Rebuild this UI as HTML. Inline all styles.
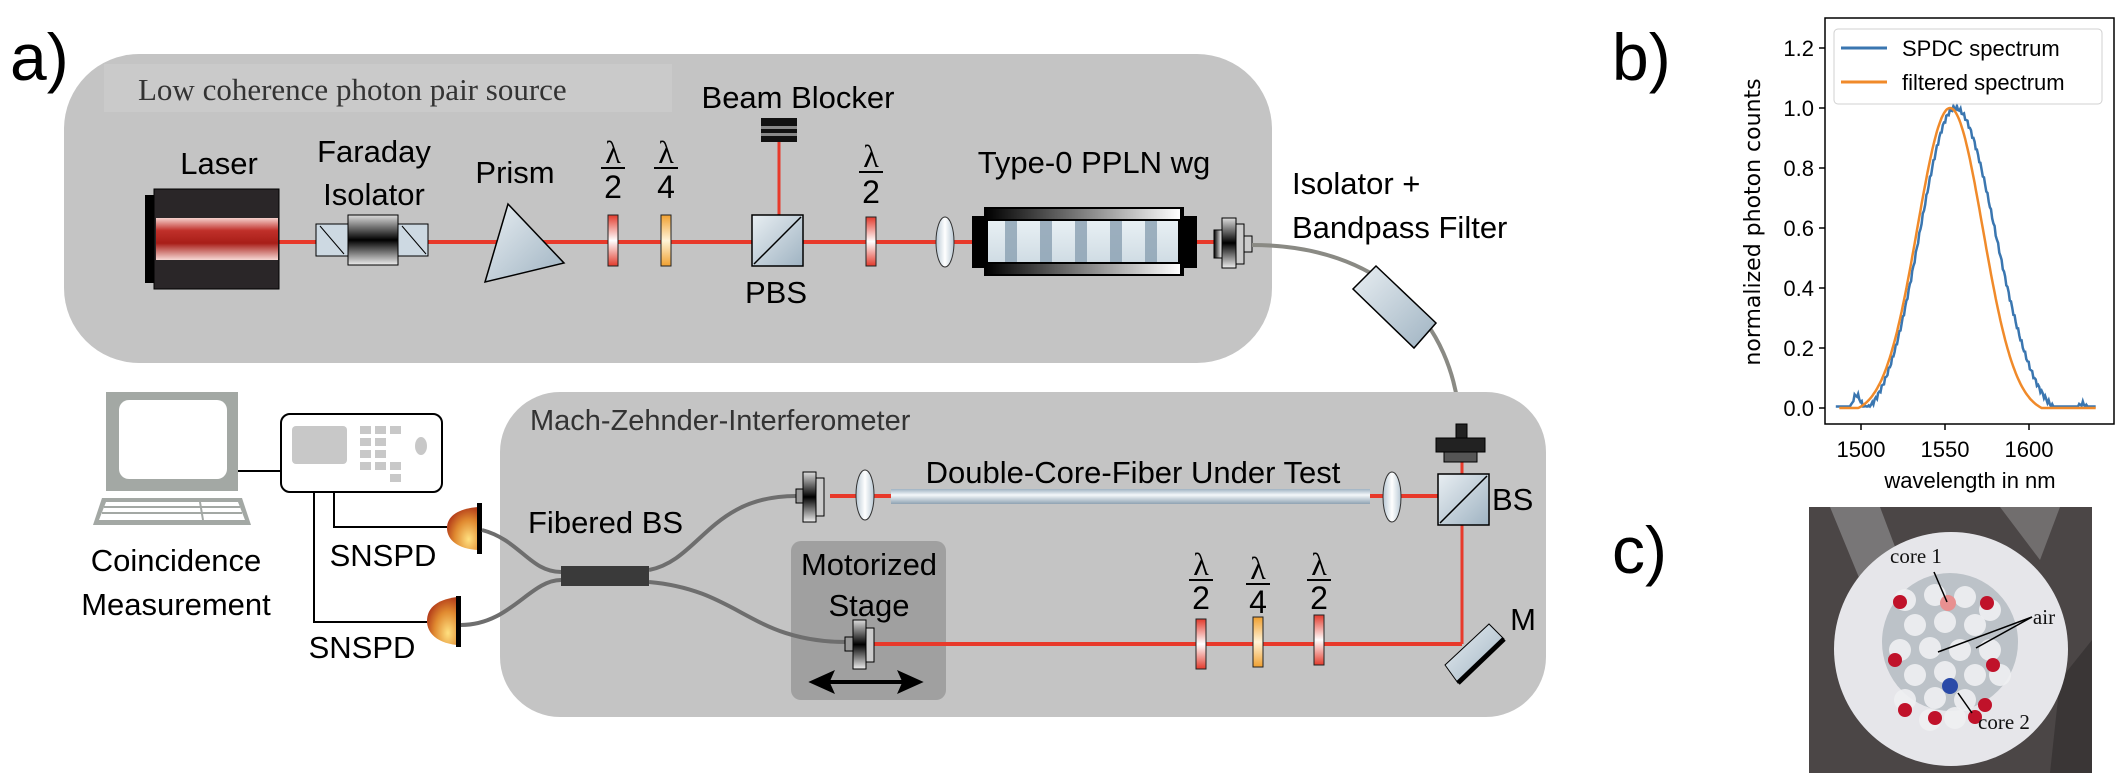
<!DOCTYPE html>
<html><head><meta charset="utf-8"><style>
html,body{margin:0;padding:0;background:#fff;}
svg{display:block;font-family:"Liberation Sans",Arial,sans-serif;}
</style></head><body>
<svg id="s" width="2124" height="784" viewBox="0 0 2124 784" xmlns="http://www.w3.org/2000/svg">
<defs>
<linearGradient id="lred" x1="0" y1="0" x2="0" y2="1"><stop offset="0" stop-color="#f5d0cc"/><stop offset="0.3" stop-color="#c0302a"/><stop offset="0.6" stop-color="#a81e18"/><stop offset="1" stop-color="#f6d8d4"/></linearGradient>
<linearGradient id="metal" x1="0" y1="0" x2="1" y2="1"><stop offset="0" stop-color="#e8eef2"/><stop offset="1" stop-color="#9fb3c2"/></linearGradient>
<linearGradient id="blk" x1="0" y1="0" x2="0" y2="1"><stop offset="0" stop-color="#ddd"/><stop offset="0.5" stop-color="#000"/><stop offset="1" stop-color="#eee"/></linearGradient>
<linearGradient id="blkh" x1="0" y1="0" x2="1" y2="0"><stop offset="0" stop-color="#000"/><stop offset="1" stop-color="#fff"/></linearGradient>
<linearGradient id="wpr" x1="0" y1="0" x2="0" y2="1"><stop offset="0" stop-color="#e23a2c"/><stop offset="0.5" stop-color="#fff"/><stop offset="1" stop-color="#e23a2c"/></linearGradient>
<linearGradient id="wpo" x1="0" y1="0" x2="0" y2="1"><stop offset="0" stop-color="#f0a030"/><stop offset="0.5" stop-color="#fff4d8"/><stop offset="1" stop-color="#f0a030"/></linearGradient>
<linearGradient id="ppln" x1="0" y1="0" x2="0" y2="1"><stop offset="0" stop-color="#e8f0f4"/><stop offset="1" stop-color="#d0dce4"/></linearGradient>
<linearGradient id="fib" x1="0" y1="0" x2="0" y2="1"><stop offset="0" stop-color="#9fb2c2"/><stop offset="0.4" stop-color="#f4f8fa"/><stop offset="1" stop-color="#8ea2b2"/></linearGradient>
<radialGradient id="det" cx="0.7" cy="0.75" r="0.9"><stop offset="0" stop-color="#ffe080"/><stop offset="0.5" stop-color="#e08a30"/><stop offset="1" stop-color="#a01a10"/></radialGradient>
<linearGradient id="lens" x1="0" y1="0" x2="1" y2="0"><stop offset="0" stop-color="#b8c8d4"/><stop offset="0.5" stop-color="#fff"/><stop offset="1" stop-color="#b8c8d4"/></linearGradient>
</defs>

<text x="10" y="80" font-size="66">a)</text>
<rect x="64" y="54" width="1208" height="309" rx="75" fill="#c4c4c4"/>
<rect x="104" y="64" width="568" height="48" fill="#cacaca"/>
<text x="138" y="100" font-family="Liberation Serif,serif" font-size="31" fill="#333">Low coherence photon pair source</text>

<line x1="279" y1="242" x2="1215" y2="242" stroke="#e8392a" stroke-width="4"/>
<line x1="779" y1="142" x2="779" y2="215" stroke="#e8392a" stroke-width="3"/>

<rect x="145" y="195" width="10" height="88" fill="#000"/>
<rect x="154" y="189" width="125" height="100" fill="#2a2628" stroke="#000"/>
<rect x="156" y="218" width="122" height="42" fill="url(#lred)"/>
<text x="219" y="174" font-size="31" text-anchor="middle">Laser</text>

<rect x="316" y="224" width="32" height="32" fill="#cdd9e2" stroke="#000"/>
<line x1="320" y1="226" x2="344" y2="254" stroke="#000"/>
<rect x="398" y="224" width="30" height="32" fill="#cdd9e2" stroke="#000"/>
<line x1="402" y1="226" x2="426" y2="254" stroke="#000"/>
<rect x="348" y="215" width="50" height="50" fill="url(#blk)" stroke="#000"/>
<text x="374" y="162" font-size="31" text-anchor="middle">Faraday</text>
<text x="374" y="205" font-size="31" text-anchor="middle">Isolator</text>

<polygon points="508,204 564,263 485,282" fill="url(#metal)" stroke="#000" stroke-width="1.5"/>
<text x="515" y="183" font-size="31" text-anchor="middle">Prism</text>

<rect x="608" y="215" width="10" height="51" fill="url(#wpr)" stroke="#222"/>
<rect x="661" y="215" width="10" height="51" fill="url(#wpo)" stroke="#222"/>
<rect x="866" y="217" width="10" height="49" fill="url(#wpr)" stroke="#222"/>
<g font-family="Liberation Serif,serif" font-size="32" text-anchor="middle">
<text x="613" y="163">λ</text><line x1="601" y1="168" x2="625" y2="168" stroke="#000" stroke-width="2"/><text x="613" y="198" font-family="Liberation Sans,sans-serif">2</text>
<text x="666" y="163">λ</text><line x1="654" y1="168" x2="678" y2="168" stroke="#000" stroke-width="2"/><text x="666" y="198" font-family="Liberation Sans,sans-serif">4</text>
<text x="871" y="167">λ</text><line x1="859" y1="172" x2="883" y2="172" stroke="#000" stroke-width="2"/><text x="871" y="203" font-family="Liberation Sans,sans-serif">2</text>
</g>

<rect x="752" y="215" width="51" height="51" fill="url(#metal)" stroke="#000" stroke-width="1.5"/>
<line x1="754" y1="264" x2="801" y2="217" stroke="#000" stroke-width="1.5"/>
<text x="776" y="303" font-size="31" text-anchor="middle">PBS</text>
<rect x="761" y="118" width="36" height="24" fill="#111"/>
<rect x="761" y="126" width="36" height="3" fill="#888"/><rect x="761" y="133" width="36" height="3" fill="#888"/>
<text x="798" y="108" font-size="31" text-anchor="middle">Beam Blocker</text>

<ellipse cx="945" cy="242" rx="9" ry="25" fill="url(#lens)" stroke="#333"/>
<rect x="972" y="216" width="12" height="52" fill="#000"/>
<rect x="984" y="207" width="200" height="69" fill="#000"/>
<rect x="986" y="209" width="194" height="10" fill="url(#blkh)"/>
<rect x="986" y="264" width="194" height="10" fill="url(#blkh)"/>
<rect x="988" y="221" width="190" height="41" fill="url(#ppln)"/>
<g fill="#8aa0b2" opacity="0.8">
<rect x="1005" y="221" width="12" height="41"/><rect x="1040" y="221" width="12" height="41"/><rect x="1075" y="221" width="12" height="41"/><rect x="1110" y="221" width="12" height="41"/><rect x="1145" y="221" width="12" height="41"/>
</g>
<rect x="1184" y="216" width="13" height="52" fill="#000"/>
<text x="1094" y="173" font-size="31" text-anchor="middle">Type-0 PPLN wg</text>
<rect x="1214" y="230" width="8" height="28" fill="url(#blkh)" stroke="#000"/>
<rect x="1222" y="218" width="14" height="50" fill="url(#blk)" stroke="#000"/>
<rect x="1236" y="224" width="8" height="40" fill="#ccc" stroke="#000"/>
<rect x="1244" y="236" width="8" height="16" fill="#ccc" stroke="#000"/>
<text x="1292" y="194" font-size="31">Isolator +</text>
<text x="1292" y="238" font-size="31">Bandpass Filter</text>
<path d="M1252,245 C1380,245 1455,320 1460,426" fill="none" stroke="#8a8a84" stroke-width="4"/>
<polygon points="1376,266 1436,323 1414,348 1353,289" fill="url(#metal)" stroke="#000" stroke-width="1.5"/>

<rect x="500" y="392" width="1046" height="325" rx="60" fill="#c4c4c4"/>
<text x="530" y="430" font-size="29" fill="#333">Mach-Zehnder-Interferometer</text>

<rect x="106" y="392" width="132" height="99" fill="#a3a8a4"/>
<rect x="119" y="400" width="108" height="79" rx="10" fill="#fff"/>
<polygon points="102,498 242,498 251,525 93,525" fill="#a3a8a4"/>
<polygon points="106,502 238,502 245,520 99,520" fill="#fff"/>
<g stroke="#a3a8a4" stroke-width="2"><line x1="104" y1="507" x2="240" y2="507"/><line x1="102" y1="513" x2="242" y2="513"/><line x1="200" y1="502" x2="203" y2="520"/></g>
<line x1="238" y1="471" x2="282" y2="471" stroke="#000" stroke-width="2"/>
<rect x="281" y="414" width="161" height="78" rx="9" fill="#fff" stroke="#000" stroke-width="2"/>
<rect x="292" y="426" width="55" height="38" rx="4" fill="#c8c8c8"/>
<g fill="#c8c8c8">
<rect x="360" y="426" width="11" height="8"/><rect x="375" y="426" width="11" height="8"/><rect x="390" y="426" width="11" height="8"/>
<rect x="360" y="438" width="11" height="8"/><rect x="375" y="438" width="11" height="8"/>
<rect x="360" y="450" width="11" height="8"/><rect x="375" y="450" width="11" height="8"/>
<rect x="360" y="462" width="11" height="8"/><rect x="375" y="462" width="11" height="8"/><rect x="390" y="462" width="11" height="8"/>
<rect x="390" y="474" width="11" height="8"/>
<ellipse cx="421" cy="446" rx="6" ry="9"/>
</g>
<polyline points="334,492 334,527 447,527" fill="none" stroke="#000" stroke-width="2"/>
<polyline points="314,492 314,622 427,622" fill="none" stroke="#000" stroke-width="2"/>
<text x="176" y="571" font-size="31" text-anchor="middle">Coincidence</text>
<text x="176" y="615" font-size="31" text-anchor="middle">Measurement</text>
<path d="M478,507 C455,509 447,518 447,528 C447,540 458,549 478,550 Z" fill="url(#det)"/>
<rect x="477" y="503" width="5" height="51" fill="#000"/>
<path d="M457,597 C434,600 427,610 427,621 C427,633 437,643 457,645 Z" fill="url(#det)"/>
<rect x="456" y="596" width="5" height="51" fill="#000"/>
<text x="383" y="566" font-size="31" text-anchor="middle">SNSPD</text>
<text x="362" y="658" font-size="31" text-anchor="middle">SNSPD</text>
<text x="528" y="533" font-size="31">Fibered BS</text>

<rect x="791" y="541" width="155" height="159" rx="10" fill="#a0a0a0"/>
<text x="869" y="575" font-size="31" text-anchor="middle">Motorized</text>
<text x="869" y="616" font-size="31" text-anchor="middle">Stage</text>

<g fill="none" stroke="#6e6e6e" stroke-width="4">
<path d="M482,530 C520,540 530,572 561,572"/>
<path d="M461,625 C510,625 530,580 561,580"/>
<path d="M649,570 C700,560 710,496 796,496"/>
<path d="M649,582 C740,590 750,642 847,642"/>
</g>
<rect x="561" y="566" width="88" height="20" fill="#3a3a3a"/>

<line x1="830" y1="496" x2="1440" y2="496" stroke="#e8392a" stroke-width="4"/>
<rect x="796" y="489" width="7" height="14" fill="#999" stroke="#000"/>
<rect x="803" y="472" width="13" height="50" fill="url(#blk)" stroke="#000"/>
<rect x="816" y="478" width="8" height="38" fill="#ccc" stroke="#000"/>
<ellipse cx="865" cy="495" rx="9" ry="25" fill="url(#lens)" stroke="#333"/>
<rect x="891" y="489" width="479" height="15" fill="url(#fib)"/>
<text x="1133" y="483" font-size="31" text-anchor="middle">Double-Core-Fiber Under Test</text>
<ellipse cx="1392" cy="497" rx="9" ry="25" fill="url(#lens)" stroke="#333"/>
<line x1="1462" y1="424" x2="1462" y2="644" stroke="#e8392a" stroke-width="3"/>
<line x1="1462" y1="644" x2="870" y2="644" stroke="#e8392a" stroke-width="4"/>
<rect x="1438" y="474" width="51" height="51" fill="url(#metal)" stroke="#000" stroke-width="1.5"/>
<line x1="1440" y1="523" x2="1487" y2="476" stroke="#000" stroke-width="1.5"/>
<text x="1492" y="510" font-size="31">BS</text>
<rect x="1456" y="424" width="11" height="14" fill="#222" stroke="#000"/>
<rect x="1436" y="438" width="49" height="14" fill="#222" stroke="#000"/>
<rect x="1444" y="452" width="33" height="10" fill="#555" stroke="#000"/>
<polygon points="1445,665 1489,624 1504,639 1458,683" fill="url(#metal)" stroke="#000"/>
<line x1="1458" y1="683" x2="1504" y2="639" stroke="#000" stroke-width="5"/>
<text x="1523" y="630" font-size="31" text-anchor="middle">M</text>
<rect x="1196" y="619" width="10" height="50" fill="url(#wpr)" stroke="#222"/>
<rect x="1253" y="617" width="10" height="50" fill="url(#wpo)" stroke="#222"/>
<rect x="1314" y="615" width="10" height="50" fill="url(#wpr)" stroke="#222"/>
<g font-family="Liberation Serif,serif" font-size="32" text-anchor="middle">
<text x="1201" y="575">λ</text><line x1="1189" y1="580" x2="1213" y2="580" stroke="#000" stroke-width="2"/><text x="1201" y="609" font-family="Liberation Sans,sans-serif">2</text>
<text x="1258" y="579">λ</text><line x1="1246" y1="584" x2="1270" y2="584" stroke="#000" stroke-width="2"/><text x="1258" y="613" font-family="Liberation Sans,sans-serif">4</text>
<text x="1319" y="575">λ</text><line x1="1307" y1="580" x2="1331" y2="580" stroke="#000" stroke-width="2"/><text x="1319" y="609" font-family="Liberation Sans,sans-serif">2</text>
</g>
<rect x="845" y="637" width="8" height="14" fill="#999" stroke="#000"/>
<rect x="853" y="620" width="13" height="49" fill="url(#blk)" stroke="#000"/>
<rect x="866" y="628" width="8" height="34" fill="#ccc" stroke="#000"/>
<line x1="822" y1="682" x2="910" y2="682" stroke="#000" stroke-width="4"/>
<polygon points="812,682 832,673 828,682 832,691" fill="#000" stroke="#000" stroke-width="3"/>
<polygon points="920,682 900,673 904,682 900,691" fill="#000" stroke="#000" stroke-width="3"/>

<text x="1612" y="80" font-size="66">b)</text>
<rect x="1825" y="18" width="289" height="406" fill="#fff" stroke="#000" stroke-width="1.5"/>
<g id="yt" font-size="22" text-anchor="end"></g>
<g id="xt" font-size="22" text-anchor="middle"></g>
<path id="blue" fill="none" stroke="#3a76b0" stroke-width="2.5"/>
<path id="orng" fill="none" stroke="#f08a2a" stroke-width="2.5"/>
<rect x="1834" y="29" width="268" height="75" rx="4" fill="#fff" stroke="#ccc" opacity="0.9"/>
<line x1="1841" y1="48" x2="1887" y2="48" stroke="#3a76b0" stroke-width="3"/>
<line x1="1841" y1="82" x2="1887" y2="82" stroke="#f08a2a" stroke-width="3"/>
<text x="1902" y="56" font-size="22">SPDC spectrum</text>
<text x="1902" y="90" font-size="22">filtered spectrum</text>
<text x="1970" y="488" font-size="22" text-anchor="middle">wavelength in nm</text>
<text transform="translate(1760,222) rotate(-90)" font-size="22" text-anchor="middle" font-family="DejaVu Sans,sans-serif">normalized photon counts</text>

<text x="1612" y="573" font-size="66">c)</text>
<clipPath id="ph"><rect x="1809" y="507" width="283" height="266"/></clipPath>
<g clip-path="url(#ph)">
<rect x="1809" y="507" width="283" height="266" fill="#4b4646"/>
<path d="M1830,507 L1880,507 L1900,560 L1860,580 Z" fill="#8c8a8c" opacity="0.7"/>
<path d="M2000,507 L2060,507 L2040,560 Z" fill="#8a8888" opacity="0.6"/>
<path d="M2060,680 L2092,640 L2092,773 L2050,773 Z" fill="#3a3636"/>
<ellipse cx="1951" cy="649" rx="117" ry="117" fill="#e6e6ea"/>
<ellipse cx="1950" cy="642" rx="68" ry="69" fill="#bcc2c8"/>
<g id="cores"></g>
</g>
<g font-family="Liberation Serif,serif" font-size="21" fill="#111">
<text x="1916" y="563" text-anchor="middle">core 1</text>
<text x="2044" y="624" text-anchor="middle">air</text>
<text x="2004" y="729" text-anchor="middle">core 2</text>
</g>
<g stroke="#000" stroke-width="1.5" fill="none">
<line x1="1934" y1="572" x2="1947" y2="602"/>
<line x1="2032" y1="617" x2="1938" y2="652"/>
<line x1="2032" y1="617" x2="1976" y2="648"/>
<line x1="1972" y1="713" x2="1958" y2="693"/>
</g>
</svg>
<script>
var ns="http://www.w3.org/2000/svg";
function X(l){return 1861+(l-1500)*1.68;} function Y(v){return 408-v*300;}
function el(t,a,p,txt){var e=document.createElementNS(ns,t);for(var k in a)e.setAttribute(k,a[k]);if(txt)e.textContent=txt;document.getElementById(p).appendChild(e);}
["0.0","0.2","0.4","0.6","0.8","1.0","1.2"].forEach(function(s,i){var y=Y(i*0.2);el("text",{x:1814,y:y+8},"yt",s);el("line",{x1:1819,y1:y,x2:1825,y2:y,stroke:"#000","stroke-width":1.5},"yt");});
[1500,1550,1600].forEach(function(l){el("text",{x:X(l),y:457},"xt",""+l);el("line",{x1:X(l),y1:424,x2:X(l),y2:430,stroke:"#000","stroke-width":1.5},"xt");});
var b="",o="";
for(var l=1485;l<=1640;l+=0.7){
 var sg=(l<1556)?21:24;
 var v=Math.exp(-Math.pow((l-1556)/sg,2)/2);
 v=(v-0.05)/0.95;
 v+=0.075*Math.exp(-Math.pow((l-1497)/4,2))+0.06*Math.exp(-Math.pow((l-1632)/5,2))+0.008*Math.sin(l*3.1);
 v=Math.max(0.005,v);
 b+=(b?"L":"M")+X(l).toFixed(1)+","+Y(v).toFixed(1);
 var w=Math.exp(-Math.pow((l-1553)/19.5,2)/2); w=(w-0.02)/0.98; w=Math.max(0,w);
 if(l>=1487) o+=(o?"L":"M")+X(l).toFixed(1)+","+Y(w).toFixed(1);
}
document.getElementById("blue").setAttribute("d",b);
document.getElementById("orng").setAttribute("d",o);
var c=[[1905,600],[1935,595],[1965,597],[1990,610],[1915,625],[1945,622],[1975,625],[1900,650],[1930,648],[1960,650],[1990,650],[1915,675],[1945,672],[1975,675],[2000,675],[1905,700],[1935,698],[1965,700],[1930,720],[1955,718]];
c.forEach(function(p){el("circle",{cx:p[0],cy:p[1],r:11,fill:"#eef0f2",opacity:0.9},"cores");});
[[1900,602],[1987,603],[1895,660],[1993,665],[1905,710],[1985,705],[1935,718],[1975,717]].forEach(function(p){el("circle",{cx:p[0],cy:p[1],r:7,fill:"#c0122a"},"cores");});
el("circle",{cx:1948,cy:603,r:8,fill:"#e89090"},"cores");
el("circle",{cx:1950,cy:686,r:8,fill:"#2a4aa8"},"cores");
</script>
</body></html>
